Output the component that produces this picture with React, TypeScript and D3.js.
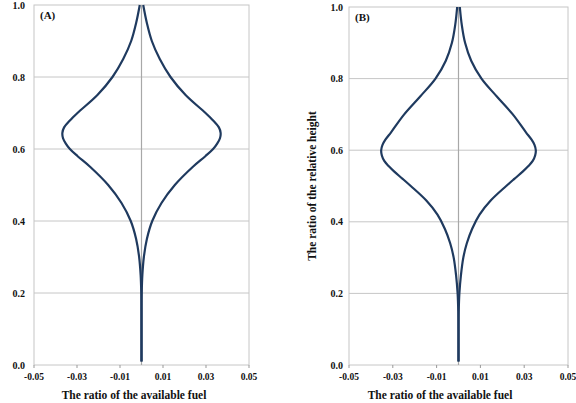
import React from "react";
import * as d3 from "d3";

// relative height (top to bottom) and available fuel ratio on the right-hand side;
// the left-hand side is the mirror image
const heightA = [1.0, 0.95, 0.9, 0.85, 0.8, 0.75, 0.7, 0.68, 0.66, 0.645, 0.63, 0.615, 0.6, 0.58, 0.55, 0.5, 0.45, 0.4, 0.35, 0.3, 0.25, 0.2, 0.15, 0.01];
const fuelA = [0.0008, 0.0025, 0.0048, 0.0085, 0.0135, 0.0205, 0.0298, 0.0332, 0.036, 0.0368, 0.0365, 0.0352, 0.0333, 0.0297, 0.0238, 0.0155, 0.0093, 0.005, 0.0025, 0.0011, 0.0004, 0.0001, 0, 0];

const heightB = [1.0, 0.95, 0.9, 0.85, 0.8, 0.75, 0.7, 0.65, 0.63, 0.615, 0.6, 0.585, 0.57, 0.555, 0.54, 0.52, 0.5, 0.46, 0.42, 0.38, 0.34, 0.3, 0.25, 0.2, 0.15, 0.1, 0.01];
const fuelB = [0.0006, 0.0015, 0.003, 0.0058, 0.0105, 0.0175, 0.0248, 0.0308, 0.0333, 0.0347, 0.0353, 0.035, 0.0339, 0.0318, 0.0293, 0.0255, 0.0218, 0.0148, 0.0096, 0.0062, 0.0038, 0.0022, 0.0011, 0.0004, 0.0001, 0, 0];

const xTicks = [-0.05, -0.03, -0.01, 0.01, 0.03, 0.05];
const yTicks = [0, 0.2, 0.4, 0.6, 0.8, 1.0];

const FONT = '"Liberation Serif", "Times New Roman", serif';
const LINE = "#1f3a5f";
const GRID = "#c6c6c6";

type PanelProps = {
  heights: number[];
  fuel: number[];
  left: number;
  right: number;
  top: number;
  bottom: number;
  tag: string;
  titleX: number;
  yTitle?: boolean;
  labelGap: number;
};

const Panel = ({ heights, fuel, left, right, top, bottom, tag, titleX, yTitle, labelGap }: PanelProps) => {
  const x = d3.scaleLinear().domain([-0.05, 0.05]).range([left, right]);
  const y = d3.scaleLinear().domain([0, 1]).range([bottom, top]);

  const pts = heights.map((h, i) => ({ h, r: fuel[i] }));
  const side = (sign: number) =>
    d3
      .line<{ h: number; r: number }>()
      .x((d) => x(sign * d.r))
      .y((d) => y(d.h))
      .curve(d3.curveCatmullRom.alpha(0.5))(pts) || "";

  return (
    <g>
      {/* horizontal gridlines */}
      {yTicks.slice(1, -1).map((t) => (
        <line key={t} x1={left} x2={right} y1={y(t)} y2={y(t)} stroke={GRID} strokeWidth={1} />
      ))}
      {/* plot frame */}
      <rect x={left} y={top} width={right - left} height={bottom - top} fill="none" stroke={GRID} strokeWidth={1} />
      {/* vertical axis at zero */}
      <line x1={x(0)} x2={x(0)} y1={top} y2={bottom} stroke="#a8a8a8" strokeWidth={1.2} />

      {/* x ticks and labels */}
      {xTicks.map((t) => (
        <g key={t}>
          <line x1={x(t)} x2={x(t)} y1={bottom} y2={bottom + 3} stroke="#999" strokeWidth={1} />
          <text x={x(t)} y={bottom + 15} textAnchor="middle" fontFamily={FONT} fontWeight="bold" fontSize={9.5} fill="#111">
            {t.toFixed(2)}
          </text>
        </g>
      ))}

      {/* y labels */}
      {yTicks.map((t) => (
        <text key={t} x={left - labelGap} y={y(t)} dy="0.35em" textAnchor="end" fontFamily={FONT} fontWeight="bold" fontSize={10} fill="#111">
          {t.toFixed(1)}
        </text>
      ))}

      <path d={side(1)} fill="none" stroke={LINE} strokeWidth={2.2} strokeLinejoin="round" />
      <path d={side(-1)} fill="none" stroke={LINE} strokeWidth={2.2} strokeLinejoin="round" />

      <text x={left + 6} y={top + 14} fontFamily={FONT} fontWeight="bold" fontSize={11} fill="#111">
        {tag}
      </text>

      <text x={titleX} y={399} textAnchor="middle" fontFamily={FONT} fontWeight="bold" fontSize={11.5} fill="#111">
        The ratio of the available fuel
      </text>

      {yTitle && (
        <text
          transform={`translate(${left - 37},${(top + bottom) / 2}) rotate(-90)`}
          textAnchor="middle"
          dy="0.35em"
          fontFamily={FONT}
          fontWeight="bold"
          fontSize={11.5}
          fill="#111"
        >
          The ratio of the relative height
        </text>
      )}
    </g>
  );
};

export default function App() {
  return (
    <svg width={576} height={403} style={{ position: "absolute", left: 0, top: 0, background: "#fff" }}>
      <rect width={576} height={403} fill="#fff" />
      <Panel heights={heightA} fuel={fuelA} left={34} right={249} top={5} bottom={365} tag="(A)" titleX={134} labelGap={9} />
      <Panel heights={heightB} fuel={fuelB} left={349} right={568} top={7} bottom={365} tag="(B)" titleX={440} yTitle labelGap={6} />
    </svg>
  );
}
